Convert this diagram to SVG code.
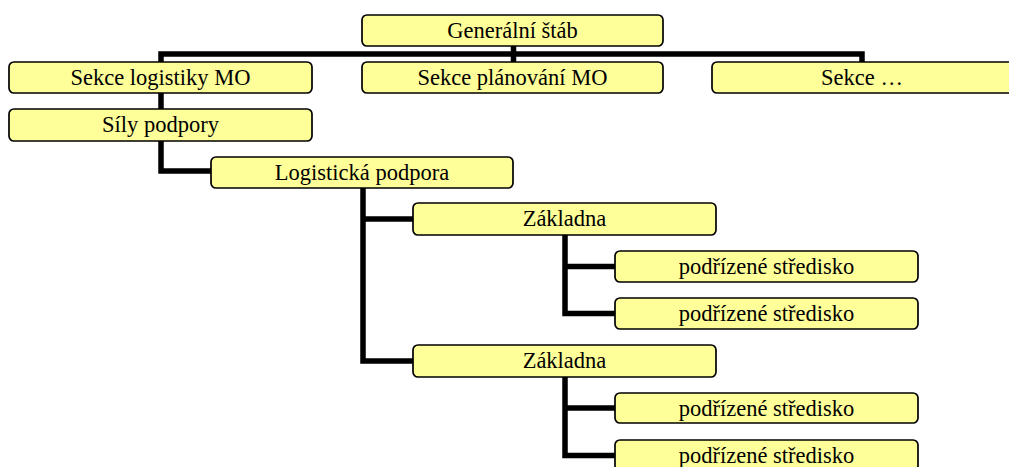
<svg xmlns="http://www.w3.org/2000/svg" width="1009" height="467" viewBox="0 0 1009 467">
<style>
.box{fill:#FFFF99;stroke:#000;stroke-width:1.7}
.lbl{font-family:"Liberation Serif","Times New Roman",serif;font-size:22.5px;fill:#000;text-anchor:middle}
.con{fill:none;stroke:#000;stroke-width:5.5;stroke-linejoin:miter;stroke-linecap:butt}
</style>
<rect width="1009" height="467" fill="#fff"/>
<g id="connectors">
<path class="con" d="M513.5,46 V54"/>
<path class="con" d="M161,62 V54 H862 V62"/>
<path class="con" d="M513.5,54 V62"/>
<path class="con" d="M161,93 V109"/>
<path class="con" d="M161,141 V171 H211"/>
<path class="con" d="M363,188 V361 H413"/>
<path class="con" d="M363,219 H413"/>
<path class="con" d="M565,235 V313.5 H615"/>
<path class="con" d="M565,266.5 H615"/>
<path class="con" d="M565,377 V455.5 H615"/>
<path class="con" d="M565,408 H615"/>
</g>
<g id="gen"><rect class="box" x="362" y="15" width="301" height="31" rx="5"/><text class="lbl" x="512.5" y="38">Generální štáb</text></g>
<g id="sekce-log"><rect class="box" x="9" y="62" width="303" height="31" rx="5"/><text class="lbl" x="160.5" y="85">Sekce logistiky MO</text></g>
<g id="sekce-plan"><rect class="box" x="362" y="62" width="301" height="31" rx="5"/><text class="lbl" x="512.5" y="85">Sekce plánování MO</text></g>
<g id="sekce-other"><rect class="box" x="712" y="62" width="302" height="31" rx="5"/><text class="lbl" x="862" y="85">Sekce …</text></g>
<g id="sily"><rect class="box" x="9" y="109" width="303" height="32" rx="5"/><text class="lbl" x="160.5" y="132">Síly podpory</text></g>
<g id="log"><rect class="box" x="211" y="157" width="302" height="31" rx="5"/><text class="lbl" x="362" y="180">Logistická podpora</text></g>
<g id="zakl1"><rect class="box" x="413" y="203" width="303" height="32" rx="5"/><text class="lbl" x="564.5" y="226">Základna</text></g>
<g id="p1"><rect class="box" x="615" y="251" width="303" height="31" rx="5"/><text class="lbl" x="766.5" y="274">podřízené středisko</text></g>
<g id="p2"><rect class="box" x="615" y="298" width="303" height="31" rx="5"/><text class="lbl" x="766.5" y="321">podřízené středisko</text></g>
<g id="zakl2"><rect class="box" x="413" y="345" width="303" height="32" rx="5"/><text class="lbl" x="564.5" y="368">Základna</text></g>
<g id="p3"><rect class="box" x="615" y="393" width="303" height="30" rx="5"/><text class="lbl" x="766.5" y="416">podřízené středisko</text></g>
<g id="p4"><rect class="box" x="615" y="440" width="303" height="31" rx="5"/><text class="lbl" x="766.5" y="463">podřízené středisko</text></g>
</svg>
